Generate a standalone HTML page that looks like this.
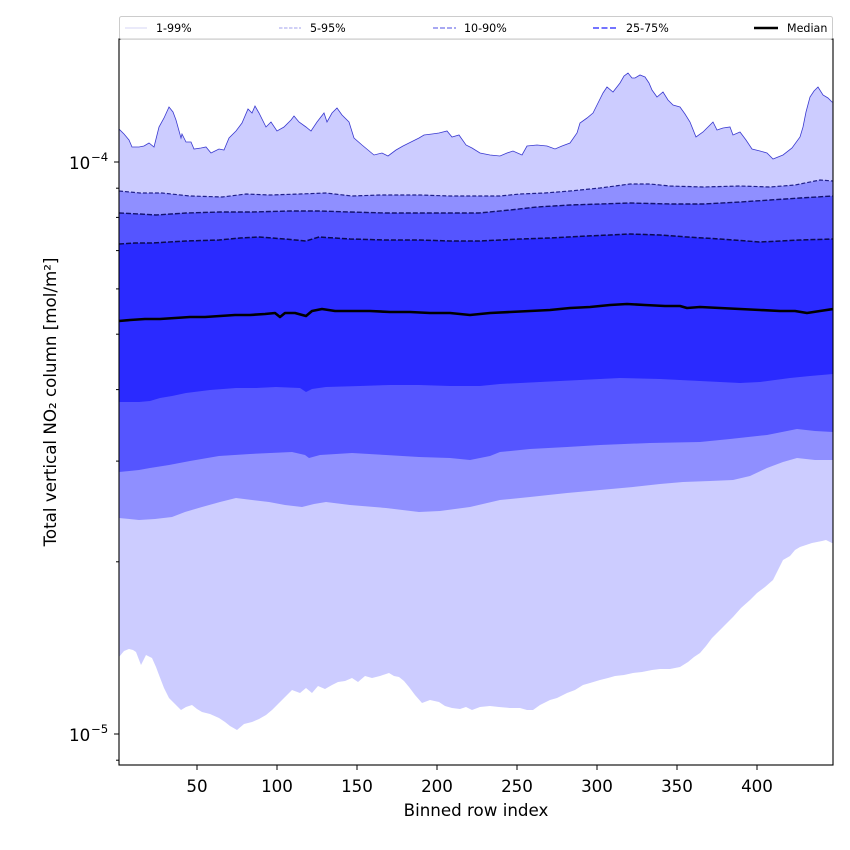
<!DOCTYPE html>
<html><head><meta charset="utf-8"><style>
html,body{margin:0;padding:0;background:#fff;}
svg{display:block;}
text{font-family:"DejaVu Sans","Liberation Sans",sans-serif;fill:#000;}
</style></head><body>
<svg width="850" height="850" viewBox="0 0 850 850" xmlns="http://www.w3.org/2000/svg">
<defs><clipPath id="c"><rect x="119" y="39" width="714" height="726"/></clipPath></defs>
<rect width="850" height="850" fill="#fff"/>
<g clip-path="url(#c)">
<path fill="#ccccff" d="M119,765 L119,129 124,134 129,140 132,147 139,147 144,146 149,143 154,147 159,127 164,118 169,107 173,112 176,120 181,138 182,134 186,142 191,142 194,149 201,148 206,147 211,153 215,151 219,149 224,150 229,138 236,131 242,123 248,109 252,113 255,106 259,113 266,127 271,122 277,131 284,127 291,120 294,116 299,122 306,127 311,131 317,122 324,113 327,122 332,113 337,108 342,115 349,122 354,138 362,145 368,150 374,155 382,153 388,156 396,150 403,146 409,143 419,138 424,135 432,134 439,133 447,131 452,137 459,135 466,145 472,148 480,153 490,155 500,156 507,153 513,151 522,155 527,146 537,145 547,146 555,149 562,146 570,143 577,133 580,123 587,118 593,113 598,103 603,93 607,87 613,92 620,83 624,76 628,73 632,78 635,78 640,75 645,77 649,83 652,90 657,97 663,92 668,100 673,105 680,107 685,114 690,122 696,137 703,132 708,127 713,122 717,130 723,128 730,127 733,135 740,132 746,140 752,149 760,151 767,153 773,159 783,155 792,148 800,137 803,127 806,112 810,97 814,91 818,87 823,95 828,98 832,102 833,102 L833,765 Z"/>
<path fill="#8f8fff" d="M119,765 L119,191 140,193 162,193 190,196 222,197 246,194 270,195 300,194 326,193 352,196 380,195 420,195 450,196 479,196 500,196 520,194 545,193 570,191 600,188 630,184 650,184 670,186 703,187 740,186 770,187 795,185 820,180 833,181 L833,765 Z"/>
<path fill="#5555ff" d="M119,765 L119,213 140,214 156,215 186,213 220,212 252,212 290,211 319,211 350,212 386,213 420,213 450,213 479,213 510,210 537,207 570,205 600,204 630,203 670,204 703,204 740,202 770,200 800,198 833,196 L833,765 Z"/>
<path fill="#2a2aff" d="M119,765 L119,244 135,243 152,243 186,241 219,240 240,238 259,237 285,239 306,241 319,237 350,239 386,240 420,240 450,241 479,241 500,240 520,239 550,238 587,236 610,235 630,234 660,235 687,237 720,239 760,242 800,240 833,239 L833,765 Z"/>
<path fill="#5555ff" d="M119,765 L119,402 139,402 150,401 160,398 172,396 186,393 210,390 236,388 256,388 276,387 300,388 306,392 312,389 326,387 360,386 390,385 419,385 450,386 480,386 500,384 540,382 580,380 620,378 660,379 700,381 740,383 760,382 790,378 810,376 833,374 L833,765 Z"/>
<path fill="#8f8fff" d="M119,765 L119,472 139,470 150,468 169,465 190,461 219,456 250,454 292,452 305,455 309,458 320,455 352,453 386,455 419,457 450,458 470,460 490,456 500,452 530,449 567,447 600,445 650,443 700,442 730,439 767,435 797,429 815,431 833,432 L833,765 Z"/>
<path fill="#ccccff" d="M119,765 L119,518 139,520 155,519 172,517 185,512 202,507 220,502 236,498 252,500 269,502 285,505 302,507 314,504 326,502 350,505 386,508 419,512 440,511 470,507 500,500 530,497 567,493 600,490 633,487 660,484 683,482 710,481 733,480 750,476 767,468 783,462 797,458 815,460 833,460 L833,765 Z"/>
<path fill="#ffffff" d="M119,765 L119,657 124,651 129,649 133,650 136,652 141,665 146,655 152,658 156,667 159,675 164,688 169,698 175,704 181,710 186,707 192,705 197,709 202,712 210,714 219,718 225,722 230,726 237,730 244,724 252,722 259,719 266,715 272,710 279,703 285,697 292,690 300,693 306,688 312,693 318,686 325,689 332,685 338,682 345,681 352,678 358,682 365,676 372,678 380,676 389,673 394,676 399,677 404,681 409,687 415,695 422,703 430,700 439,702 445,706 452,708 460,709 466,707 472,710 480,707 490,706 499,707 510,708 520,708 527,710 533,710 540,705 550,700 557,698 567,693 575,690 583,685 590,683 600,680 608,678 615,676 624,675 633,673 642,672 652,670 660,669 670,669 680,667 688,662 694,657 700,653 706,646 712,638 717,633 724,626 733,617 741,608 750,600 757,593 765,587 773,580 778,570 783,560 790,556 795,550 800,547 806,545 812,543 817,542 822,541 826,540 832,543 833,543 L833,765 Z"/>
<polyline fill="none" stroke="#3a3ad0" stroke-width="0.8" points="119,129 124,134 129,140 132,147 139,147 144,146 149,143 154,147 159,127 164,118 169,107 173,112 176,120 181,138 182,134 186,142 191,142 194,149 201,148 206,147 211,153 215,151 219,149 224,150 229,138 236,131 242,123 248,109 252,113 255,106 259,113 266,127 271,122 277,131 284,127 291,120 294,116 299,122 306,127 311,131 317,122 324,113 327,122 332,113 337,108 342,115 349,122 354,138 362,145 368,150 374,155 382,153 388,156 396,150 403,146 409,143 419,138 424,135 432,134 439,133 447,131 452,137 459,135 466,145 472,148 480,153 490,155 500,156 507,153 513,151 522,155 527,146 537,145 547,146 555,149 562,146 570,143 577,133 580,123 587,118 593,113 598,103 603,93 607,87 613,92 620,83 624,76 628,73 632,78 635,78 640,75 645,77 649,83 652,90 657,97 663,92 668,100 673,105 680,107 685,114 690,122 696,137 703,132 708,127 713,122 717,130 723,128 730,127 733,135 740,132 746,140 752,149 760,151 767,153 773,159 783,155 792,148 800,137 803,127 806,112 810,97 814,91 818,87 823,95 828,98 832,102 833,102"/>
<polyline fill="none" stroke="#20208a" stroke-width="1.2" stroke-dasharray="4,2" points="119,191 140,193 162,193 190,196 222,197 246,194 270,195 300,194 326,193 352,196 380,195 420,195 450,196 479,196 500,196 520,194 545,193 570,191 600,188 630,184 650,184 670,186 703,187 740,186 770,187 795,185 820,180 833,181"/>
<polyline fill="none" stroke="#12126e" stroke-width="1.4" stroke-dasharray="5,2" points="119,213 140,214 156,215 186,213 220,212 252,212 290,211 319,211 350,212 386,213 420,213 450,213 479,213 510,210 537,207 570,205 600,204 630,203 670,204 703,204 740,202 770,200 800,198 833,196"/>
<polyline fill="none" stroke="#0a0a50" stroke-width="1.5" stroke-dasharray="5,2" points="119,244 135,243 152,243 186,241 219,240 240,238 259,237 285,239 306,241 319,237 350,239 386,240 420,240 450,241 479,241 500,240 520,239 550,238 587,236 610,235 630,234 660,235 687,237 720,239 760,242 800,240 833,239"/>
<polyline fill="none" stroke="#000" stroke-width="2.6" stroke-linejoin="round" points="119,321 130,320 145,319 160,319 175,318 190,317 205,317 220,316 235,315 250,315 265,314 275,313 280,317 285,313 295,313 306,316 312,311 322,309 335,311 350,311 370,311 390,312 410,312 430,313 450,313 470,315 490,313 510,312 530,311 550,310 570,308 590,307 610,305 627,304 645,305 665,306 680,306 687,308 700,307 720,308 740,309 760,310 780,311 795,311 807,313 820,311 833,309"/>
</g>
<rect x="119" y="39" width="714" height="726" fill="none" stroke="#000" stroke-width="1.1"/>
<g stroke="#000" stroke-width="1">
<line x1="114" y1="162" x2="119" y2="162"/>
<line x1="114" y1="734" x2="119" y2="734"/>
<line x1="116" y1="188.2" x2="119" y2="188.2"/>
<line x1="116" y1="217.4" x2="119" y2="217.4"/>
<line x1="116" y1="250.6" x2="119" y2="250.6"/>
<line x1="116" y1="288.9" x2="119" y2="288.9"/>
<line x1="116" y1="334.2" x2="119" y2="334.2"/>
<line x1="116" y1="389.6" x2="119" y2="389.6"/>
<line x1="116" y1="461.1" x2="119" y2="461.1"/>
<line x1="116" y1="561.8" x2="119" y2="561.8"/>
<line x1="116" y1="760.2" x2="119" y2="760.2"/>
</g>
<g stroke="#000" stroke-width="1">
<line x1="197" y1="765" x2="197" y2="770"/>
<line x1="277" y1="765" x2="277" y2="770"/>
<line x1="357" y1="765" x2="357" y2="770"/>
<line x1="437" y1="765" x2="437" y2="770"/>
<line x1="517" y1="765" x2="517" y2="770"/>
<line x1="597" y1="765" x2="597" y2="770"/>
<line x1="677" y1="765" x2="677" y2="770"/>
<line x1="757" y1="765" x2="757" y2="770"/>
</g>
<g font-size="16.7" text-anchor="middle">
<text x="197" y="792">50</text>
<text x="277" y="792">100</text>
<text x="357" y="792">150</text>
<text x="437" y="792">200</text>
<text x="517" y="792">250</text>
<text x="597" y="792">300</text>
<text x="677" y="792">350</text>
<text x="757" y="792">400</text>
<text x="476" y="816">Binned row index</text>
</g>
<text x="69" y="169" font-size="16.7">10</text>
<text x="91" y="161" font-size="11.7">−4</text>
<text x="69" y="741" font-size="16.7">10</text>
<text x="91" y="733" font-size="11.7">−5</text>
<text transform="translate(56,402) rotate(-90)" font-size="16.7" text-anchor="middle">Total vertical NO₂ column [mol/m²]</text>
<rect x="119.5" y="16.5" width="713" height="22.5" rx="2" fill="#fff" fill-opacity="0.9" stroke="#cccccc" stroke-width="1"/>
<line x1="125" y1="28" x2="147" y2="28" stroke="#d4d4f6" stroke-width="1"/>
<line x1="279" y1="28" x2="301" y2="28" stroke="#a0a0ee" stroke-width="1" stroke-dasharray="3.5,1.5"/>
<line x1="433" y1="28" x2="456" y2="28" stroke="#8c8cee" stroke-width="1.4" stroke-dasharray="5,2"/>
<line x1="593" y1="28" x2="616" y2="28" stroke="#7474ff" stroke-width="2" stroke-dasharray="6,2.5"/>
<line x1="754" y1="28" x2="778" y2="28" stroke="#000" stroke-width="2.5"/>
<g font-size="11.1">
<text x="156" y="32">1-99%</text>
<text x="310" y="32">5-95%</text>
<text x="464" y="32">10-90%</text>
<text x="626" y="32">25-75%</text>
<text x="787" y="32">Median</text>
</g>
</svg>
</body></html>
